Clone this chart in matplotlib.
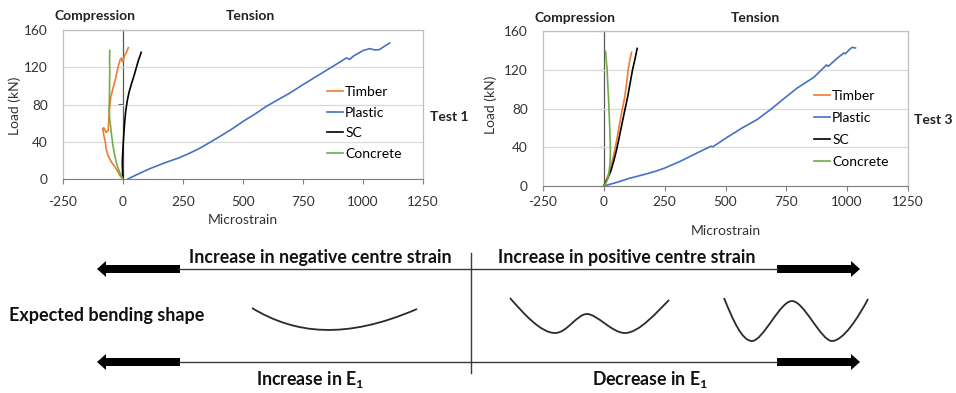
import numpy as np
import matplotlib
matplotlib.use('Agg')
import matplotlib.pyplot as plt
from matplotlib.patches import FancyArrow, PathPatch
from matplotlib.path import Path

plt.rcParams['font.family'] = ['Lato', 'DejaVu Sans']
plt.rcParams['axes.unicode_minus'] = False
plt.rcParams['mathtext.fontset'] = 'custom'
plt.rcParams['mathtext.rm'] = 'Lato:bold'
plt.rcParams['mathtext.it'] = 'Lato:bold'

# ---- data (microstrain, load in kN) ----
series_names = ['Timber', 'Plastic', 'SC', 'Concrete']
series_colors = ['#ED7D31', '#4472C4', '#000000', '#70AD47']

# Test 1
timber1_x = [0, -14, -28, -48, -62, -70, -74, -80, -84, -80, -70, -62, -60, -58, -55, -51, -42, -35,
             -28, -21, -12, -6, -3, 2, 7, 14, 22]
timber1_y = [0, 4, 11, 18, 25, 32, 40, 47, 54, 55, 50, 52, 60, 68, 78, 88, 97, 104,
             111, 120, 128, 130, 126, 128, 133, 136, 141]
plastic1_x = [20, 60, 111, 170, 236, 280, 320, 360, 403, 450, 500, 556, 597, 653, 695, 750, 806,
              875, 931, 945, 960, 1000, 1028, 1050, 1069, 1083, 1111]
plastic1_y = [0, 5, 11, 17, 23, 28, 33, 39, 45.6, 53, 61.8, 70.8, 78, 86.2, 92.3, 101.3, 110.2,
              121, 130, 128.5, 132, 137.9, 140, 138.5, 139, 141.5, 146]
sc1_x = [0, -2, -3, -1, 3, 7, 11, 17, 25, 35, 46, 56, 65, 72, 76]
sc1_y = [0, 8, 18, 29, 47, 61, 72, 83, 93, 102, 111, 120, 128, 133, 136]
concrete1_x = [0, -8, -14, -22, -28, -35, -42, -48, -52, -56, -58, -57, -56, -56, -55, -56, -55]
concrete1_y = [0, 4, 7, 13, 18, 26, 36, 48, 57, 66, 75, 85, 95, 105, 115, 128, 138]

# Test 3
timber3_x = [0, 8, 16, 25, 35, 45, 55, 65, 75, 86, 93, 100, 107, 114]
timber3_y = [0, 5, 10, 16.5, 26, 37, 50, 64.7, 78, 92, 105, 120, 130, 138]
plastic3_x = [0, 50, 106, 160, 210, 250, 315, 384, 440, 448, 507, 569, 630, 685, 740, 795, 863,
              915, 922, 955, 986, 992, 1010, 1020, 1034]
plastic3_y = [0, 3.5, 8, 11.5, 15, 18.5, 25.6, 34.2, 41, 40.5, 50.3, 60, 68.6, 78.9, 90.2, 101.2, 112.2,
              125, 123.5, 131, 137.3, 136.5, 141, 143.1, 142.5]
sc3_x = [0, 8, 18, 30, 41, 52, 63, 75, 86, 98, 108, 118, 128, 137]
sc3_y = [0, 4, 9, 16.5, 26, 37, 50, 64.7, 78, 92, 106, 120, 131, 142]
concrete3_x = [0, 6, 14, 20, 25, 27, 26, 24.5, 22, 19, 16, 13.5, 10, 7]
concrete3_y = [0, 2, 6, 12, 22, 34, 46, 58, 75, 92, 106, 120, 130, 139]

x_ticks = [-250, 0, 250, 500, 750, 1000, 1250]
y_ticks = [0, 40, 80, 120, 160]

W, H = 956, 393
fig = plt.figure(figsize=(W / 100, H / 100), dpi=100)


def px_axes(left, top, right, bottom):
    return fig.add_axes([left / W, 1 - bottom / H, (right - left) / W, (bottom - top) / H])


def draw_chart(ax, test, legend_xy, spacing, xpad):
    for (xs, ys), name, col in zip(test, series_names, series_colors):
        ax.plot(xs, ys, color=col, lw=1.2, label=name)
    ax.set_xlim(-250, 1250)
    ax.set_ylim(0, 160)
    ax.set_xticks(x_ticks)
    ax.set_yticks(y_ticks)
    ax.grid(axis='y', color='#d9d9d9', lw=0.9)
    ax.set_axisbelow(True)
    for s in ['top', 'right', 'left']:
        ax.spines[s].set_color('#bfbfbf')
        ax.spines[s].set_linewidth(0.9)
    ax.spines['bottom'].set_color('#7f7f7f')
    ax.tick_params(axis='y', length=0, pad=11, labelsize=9.8, labelcolor='#333333')
    ax.tick_params(axis='x', length=3.5, width=0.8, color='#7f7f7f', pad=xpad,
                   labelsize=9.8, labelcolor='#333333')
    # vertical axis crossing at zero
    sec = ax.secondary_yaxis(250 / 1500)
    sec.set_yticks(y_ticks)
    sec.set_yticklabels([])
    sec.tick_params(length=3.5, width=0.8, color='#595959')
    sec.spines['left'].set_color('#595959')
    sec.spines['left'].set_linewidth(0.9)
    ax.legend(loc='center left', bbox_to_anchor=(legend_xy[0] / W, 1 - legend_xy[1] / H),
              bbox_transform=fig.transFigure, frameon=False, fontsize=10,
              handlelength=1.15, handletextpad=0.15, labelspacing=spacing,
              borderpad=0, borderaxespad=0)


ax1 = px_axes(63, 30, 423, 179)
draw_chart(ax1, [(timber1_x, timber1_y), (plastic1_x, plastic1_y), (sc1_x, sc1_y),
                 (concrete1_x, concrete1_y)], (327, 123), 0.62, 8.5)
ax2 = px_axes(543, 31, 908, 186)
draw_chart(ax2, [(timber3_x, timber3_y), (plastic3_x, plastic3_y), (sc3_x, sc3_y),
                 (concrete3_x, concrete3_y)], (814, 129), 0.72, 4)

# overlay in pixel coordinates for labels and the schematic
ov = fig.add_axes([0, 0, 1, 1])
ov.set_xlim(0, W)
ov.set_ylim(H, 0)
ov.axis('off')

tc = '#222222'
ov.text(95, 16, 'Compression', ha='center', va='center', fontsize=10, fontweight='bold', color=tc)
ov.text(250, 16, 'Tension', ha='center', va='center', fontsize=10, fontweight='bold', color=tc)
ov.text(430, 117, 'Test 1', ha='left', va='center', fontsize=10, fontweight='bold', color=tc)
ov.text(15, 106, 'Load (kN)', ha='center', va='center', rotation=90, fontsize=10, color='#333333')
ov.text(243, 220, 'Microstrain', ha='center', va='center', fontsize=10, color='#333333')

ov.text(575, 18, 'Compression', ha='center', va='center', fontsize=10, fontweight='bold', color=tc)
ov.text(755, 18, 'Tension', ha='center', va='center', fontsize=10, fontweight='bold', color=tc)
ov.text(914, 120, 'Test 3', ha='left', va='center', fontsize=10, fontweight='bold', color=tc)
ov.text(491, 105, 'Load (kN)', ha='center', va='center', rotation=90, fontsize=10, color='#333333')
ov.text(726, 231, 'Microstrain', ha='center', va='center', fontsize=10, color='#333333')

# schematic: arrows
line_c = '#3a3a3a'
top_y, bot_y = 269, 362
for yy in (top_y, bot_y):
    ov.plot([179, 777], [yy, yy], color=line_c, lw=1.0)
    ov.add_patch(FancyArrow(180, yy, -83, 0, width=8, head_width=16, head_length=9,
                            length_includes_head=True, color='black', lw=0))
    ov.add_patch(FancyArrow(777, yy, 83, 0, width=8, head_width=16, head_length=9,
                            length_includes_head=True, color='black', lw=0))
ov.plot([471, 471], [253, 373], color=line_c, lw=1.0)

bt = dict(ha='center', va='center', fontsize=12.8, fontweight='bold', color='#111111')
ov.text(320, 258, 'Increase in negative centre strain', **bt)
ov.text(627, 258, 'Increase in positive centre strain', **bt)
ov.text(310, 380, 'Increase in E$_{1}$', **bt)
ov.text(650, 380, 'Decrease in E$_{1}$', **bt)
ov.text(9, 315, 'Expected bending shape', ha='left', va='center', fontsize=13,
        fontweight='bold', color='#111111')

# schematic: expected bending shapes (cubic Bezier control points)
shape_a = [(252, 308), (295, 334), (345, 340), (417, 309)]
shape_b = [(510, 298), (524, 314), (541, 333), (555, 333), (567, 333), (577, 314), (587, 314),
           (597, 314), (612, 333), (625, 333), (639, 333), (657, 312), (669, 300)]
shape_c = [(724, 298), (733, 320), (742, 341), (752, 341), (763, 341), (780, 301), (792, 301),
           (804, 301), (821, 341), (832, 341), (843, 341), (858, 318), (868, 299)]
for pts in (shape_a, shape_b, shape_c):
    codes = [Path.MOVETO] + [Path.CURVE4] * (len(pts) - 1)
    ov.add_patch(PathPatch(Path(pts, codes), fill=False, edgecolor='#2a2a2a', lw=1.3))

fig.savefig('out.png', dpi=100)
